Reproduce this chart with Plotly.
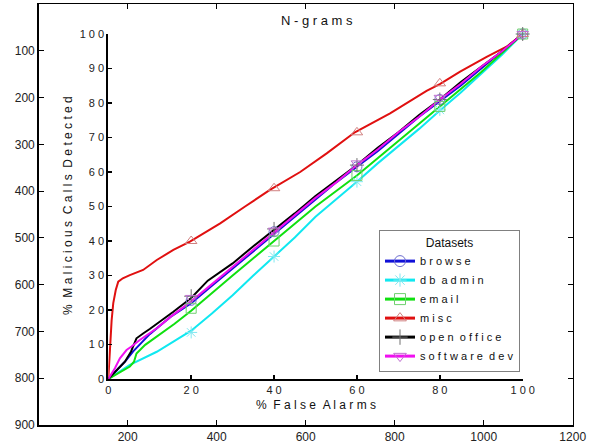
import plotly.graph_objects as go

W, H = 592, 445

# ---------------- data ----------------
series_names = ["browse", "db admin", "email", "misc", "open office", "software dev"]

browse_x = [0, 2, 4, 6, 8, 10, 15, 20, 25, 30, 35, 40, 45, 50, 55, 60, 65, 70, 75, 80, 85, 90, 95, 100]
browse_y = [0, 2.5, 5, 8, 10.5, 13, 18, 22, 27, 32, 37, 42, 47, 52, 57, 61.5, 66, 71, 76, 80.5, 85, 90, 95, 100]

dbadmin_x = [0, 5.2, 11.7, 16, 20, 25, 30, 35, 40, 45, 50, 55, 60, 65, 70, 75, 80, 85, 90, 95, 100]
dbadmin_y = [0, 4.1, 7.9, 11, 14, 19, 24.3, 30, 35.5, 41, 47, 52, 57.2, 62.5, 67.5, 72.5, 77.8, 83, 88.5, 94, 100]

email_x = [0, 3, 5.2, 6.2, 6.8, 8.9, 12, 16, 20, 25, 30, 35, 40, 45, 50, 55, 60, 65, 70, 75, 80, 85, 90, 95, 100]
email_y = [0, 2, 3.6, 5, 7.4, 9.9, 12.5, 16, 19.8, 25, 30, 35, 40, 45, 50, 54.5, 59, 64, 69, 74, 78.8, 84, 89, 94.5, 100]

misc_x = [0, 0.2, 0.4, 0.8, 1.2, 1.8, 2.4, 3.5, 5.2, 8.4, 11.7, 15.7, 19.7, 23, 27, 33, 39,
          46.3, 52.7, 59.5, 68, 76.8, 80, 84.9, 91.3, 96.1, 100]
misc_y = [0, 4.5, 10, 17, 22, 25.8, 28.2, 29.2, 30.1, 31.6, 34.5, 37.4, 39.8, 42.2, 45.1, 50, 54.8,
          60, 65.4, 71.5, 77, 83.5, 85.5, 89.1, 93.4, 96.3, 100]

openoffice_x = [0, 2, 4, 5.5, 6.8, 8.4, 10, 15.7, 20, 24, 30, 35, 40, 45, 50, 55, 60, 65, 70, 75, 80, 85, 90, 95, 100]
openoffice_y = [0, 2.5, 5, 8, 11.8, 13.2, 14.5, 19.5, 23.5, 28.5, 33.5, 38.5, 43.2, 48, 53, 57.5, 62, 67, 71.5, 76.5, 81, 86, 90.5, 95, 100]

softdev_x = [0, 1.6, 2.8, 4.4, 5.6, 7.6, 11.7, 15, 20, 25, 30, 35, 40, 45, 50, 55, 60, 65, 70, 75, 80, 85, 90, 95, 100]
softdev_y = [0, 3.1, 6, 8.4, 9.4, 11.3, 14.7, 18, 22.5, 27.5, 32.5, 37.5, 42.5, 47.5, 52.5, 57, 62, 66.5, 71.5, 76, 81, 85.5, 90.5, 95, 100]

marker_x = [20, 40, 60, 80, 100]
browse_my = [22.8, 42.7, 61.5, 81, 100]
dbadmin_my = [13.5, 35.5, 57.2, 78, 100]
email_my = [20.5, 40, 59, 79, 100]
misc_my = [40, 55.3, 71.5, 85.7, 100]
openoffice_my = [24, 43.5, 62, 81, 100]
softdev_my = [23.5, 43, 62.5, 81.5, 100]

inner_xticks = [0, 20, 40, 60, 80, 100]
inner_yticks = [0, 10, 20, 30, 40, 50, 60, 70, 80, 90, 100]
outer_xticks = [200, 400, 600, 800, 1000, 1200]
outer_yticks = [100, 200, 300, 400, 500, 600, 700, 800, 900]

title_text = "N-grams"
xlabel_text = "% False Alarms"
ylabel_text = "% Malicious Calls Detected"
legend_title = "Datasets"

# ---------------- style ----------------
line_colors = ["#1010d8", "#10e8f0", "#10e010", "#e01010", "#000000", "#f010f0"]
marker_colors = ["#7070d0", "#80e8f0", "#70d070", "#d08080", "#707070", "#c070d0"]
symbols = ["circle-open", "asterisk-open", "square-open", "triangle-up-open", "cross-thin-open", "triangle-down-open"]
FONT = "Liberation Sans, Arial, sans-serif"


def spaced(s):
    return "\u00a0\u00a0".join(" ".join(list(w)) for w in s.split(" "))


def px_x(p):
    return p / W


def px_y(p):
    return 1 - p / H


xs = [browse_x, dbadmin_x, email_x, misc_x, openoffice_x, softdev_x]
ys = [browse_y, dbadmin_y, email_y, misc_y, openoffice_y, softdev_y]
mys = [browse_my, dbadmin_my, email_my, misc_my, openoffice_my, softdev_my]

fig = go.Figure()

# invisible trace to activate outer axes
fig.add_trace(go.Scatter(x=[None], y=[None], xaxis="x", yaxis="y", showlegend=False, hoverinfo="skip"))

for i, name in enumerate(series_names):
    fig.add_trace(go.Scatter(
        x=xs[i], y=ys[i], xaxis="x2", yaxis="y2", mode="lines",
        line=dict(color=line_colors[i], width=2), showlegend=False, cliponaxis=False,
        legendgroup=name))
for i, name in enumerate(series_names):
    fig.add_trace(go.Scatter(
        x=marker_x, y=mys[i], xaxis="x2", yaxis="y2", mode="markers",
        marker=dict(symbol=symbols[i], size=10, color=marker_colors[i], line=dict(width=1, color=marker_colors[i])),
        showlegend=False, cliponaxis=False, legendgroup=name))
for i, name in enumerate(series_names):
    fig.add_trace(go.Scatter(
        x=[None], y=[None], xaxis="x2", yaxis="y2", mode="lines+markers", name=spaced(name),
        line=dict(color=line_colors[i], width=3),
        marker=dict(symbol=symbols[i], size=11, color=marker_colors[i], line=dict(width=1, color=marker_colors[i])),
        legendgroup=name))

axis_common = dict(showgrid=False, zeroline=False, showline=True, linecolor="black",
                   ticks="inside", tickcolor="black", automargin=False)

fig.update_layout(
    width=W, height=H,
    margin=dict(l=0, r=0, t=0, b=0, pad=0, autoexpand=False),
    paper_bgcolor="white", plot_bgcolor="white",
    font=dict(family=FONT, color="#222222"),
    xaxis=dict(domain=[px_x(38.7), px_x(572.7)], range=[0, 1200], anchor="y",
               tickvals=outer_xticks, ticklen=5, linewidth=1.5, mirror="allticks",
               tickfont=dict(size=12, family=FONT), **axis_common),
    yaxis=dict(domain=[px_y(425), px_y(4)], range=[900, 0], anchor="x",
               tickvals=outer_yticks, ticklen=5, linewidth=1.5, mirror="allticks",
               tickfont=dict(size=12, family=FONT), **axis_common),
    xaxis2=dict(domain=[px_x(108.3), px_x(522.7)], range=[0, 100], anchor="y2",
                tickvals=inner_xticks, ticktext=[spaced(str(v)) for v in inner_xticks],
                ticklen=4, linewidth=2, tickwidth=1.5, tickfont=dict(size=11, family=FONT), **axis_common),
    yaxis2=dict(domain=[px_y(379), px_y(34)], range=[0, 100], anchor="x2",
                tickvals=inner_yticks, ticktext=[spaced(str(v)) for v in inner_yticks],
                ticklen=4, linewidth=2, tickwidth=1.5, tickfont=dict(size=11, family=FONT), **axis_common),
    legend=dict(x=px_x(379), y=px_y(372), xanchor="left", yanchor="bottom",
                bgcolor="white", bordercolor="#808080", borderwidth=1,
                font=dict(size=11, family=FONT, color="#111111"),
                title=dict(text=legend_title, side="top center", font=dict(size=12, family=FONT)),
                tracegroupgap=0, itemwidth=30),
    annotations=[
        dict(text=spaced(title_text), x=px_x(316.5), y=px_y(21), xref="paper", yref="paper",
             showarrow=False, font=dict(size=13, family=FONT, color="#111111"), xanchor="center", yanchor="middle"),
        dict(text=spaced(xlabel_text), x=px_x(316), y=px_y(405), xref="paper", yref="paper",
             showarrow=False, font=dict(size=12, family=FONT, color="#111111"), xanchor="center", yanchor="middle"),
        dict(text=spaced(ylabel_text), x=px_x(68), y=px_y(206), xref="paper", yref="paper", textangle=-90,
             showarrow=False, font=dict(size=12, family=FONT, color="#111111"), xanchor="center", yanchor="middle"),
    ],
    shapes=[dict(type="line", xref="paper", yref="paper", x0=px_x(380), x1=px_x(519.5),
                 y0=px_y(252), y1=px_y(252), line=dict(color="#808080", width=1), layer="above")],
)

fig.write_html("out.html", config={"displayModeBar": False, "staticPlot": True},
               post_script="document.body.style.margin='0';")
